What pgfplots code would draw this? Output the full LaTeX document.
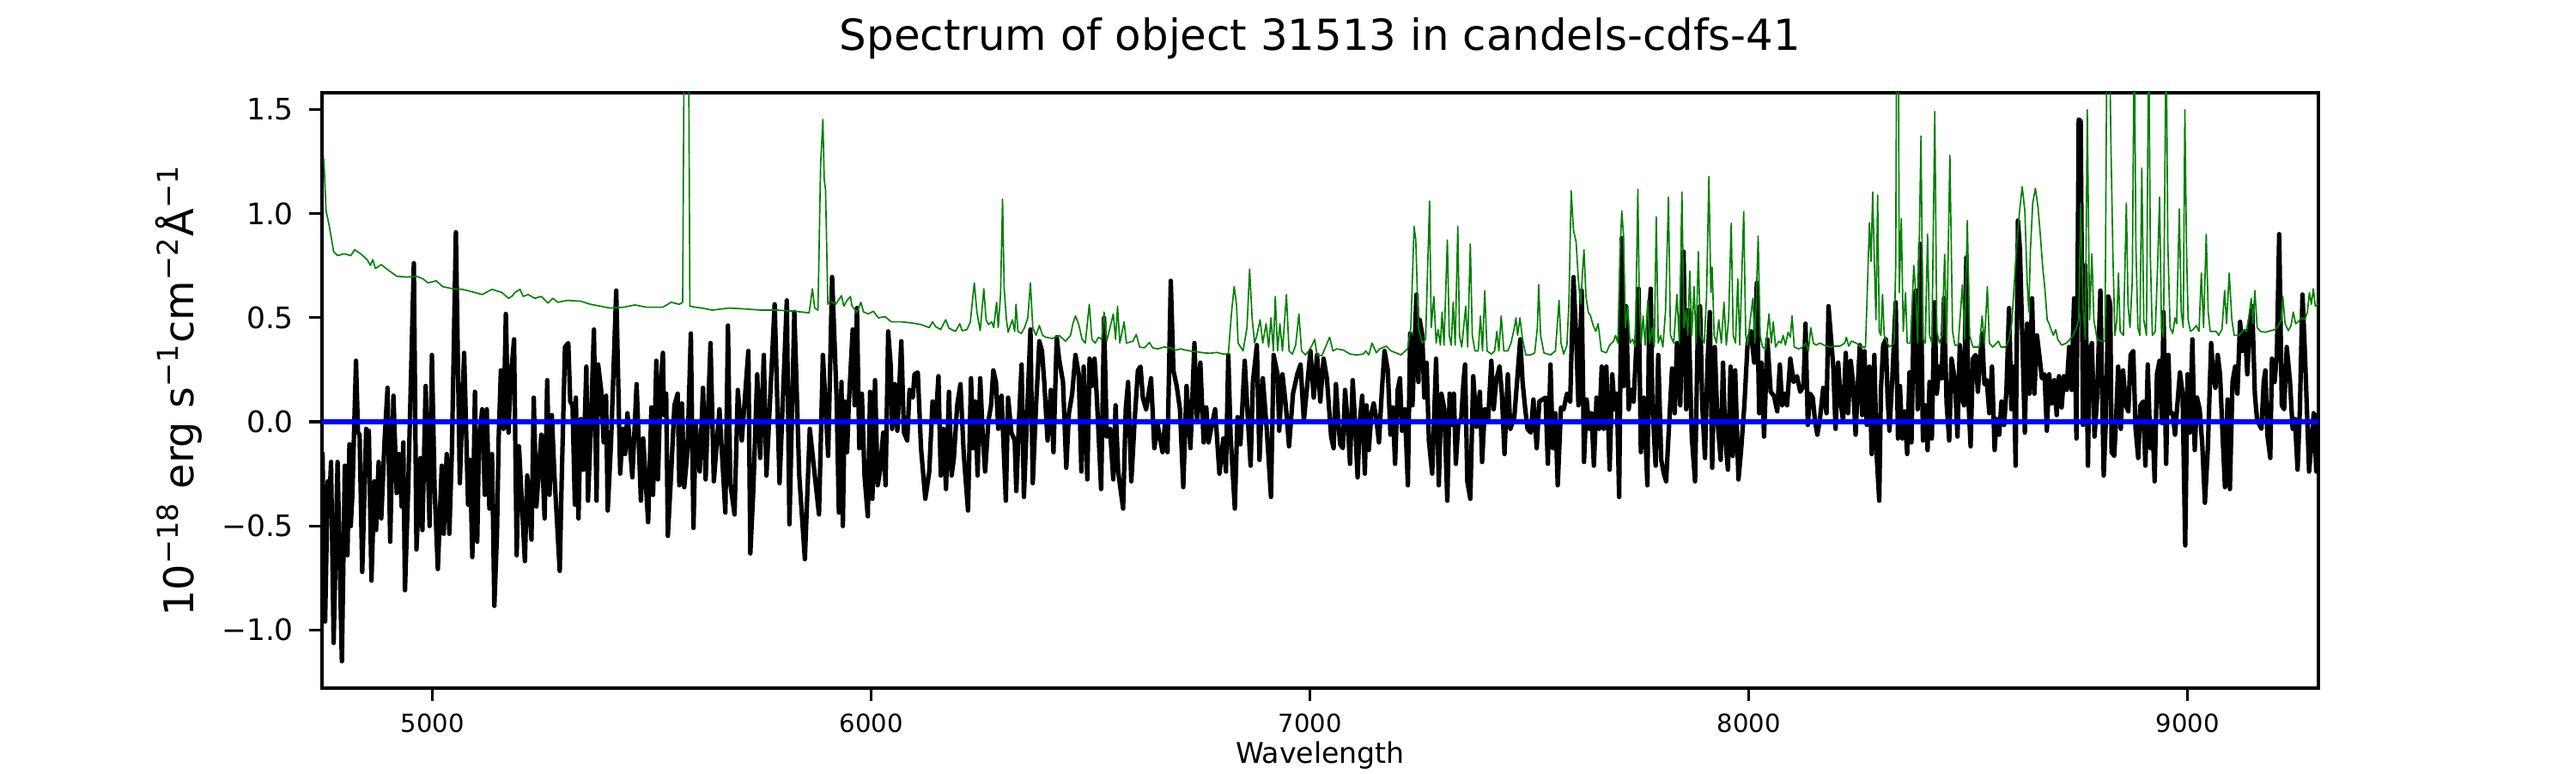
\documentclass[border=0pt]{standalone}
\usepackage{fontspec}
\setmainfont{DejaVu Sans}
\usepackage{pgfplots}
\pgfplotsset{compat=1.18}
\definecolor{mplgreen}{rgb}{0,0.5,0}
\begin{document}
\begin{tikzpicture}
\useasboundingbox (0,0) rectangle (720bp,216bp);
\begin{axis}[
  at={(90bp,23.76bp)}, anchor=south west,
  width=558bp, height=166.32bp, scale only axis,
  xmin=4748, xmax=9298, ymin=-1.279, ymax=1.58,
  scaled x ticks=false, scaled y ticks=false,
  xtick={5000,6000,7000,8000,9000},
  xticklabels={5000,6000,7000,8000,9000},
  ytick={-1,-0.5,0,0.5,1,1.5},
  yticklabels={−1.0,−0.5,0.0,0.5,1.0,1.5},
  tick align=outside, tick pos=left,
  major tick length=3.5bp,
  every tick/.style={line width=0.8bp, black},
  axis line style={line width=0.8bp},
  xticklabel style={font=\fontsize{7}{8}\selectfont, anchor=base, inner sep=0pt, yshift=-8.74bp},
  yticklabel style={font=\fontsize{8.3}{10}\selectfont, anchor=east, inner sep=0pt, xshift=-4.25bp},
  title={Spectrum of object 31513 in candels-cdfs-41},
  title style={at={(axis description cs:0.5,1.0357)}, anchor=base, inner sep=0pt, font=\fontsize{12}{14}\selectfont},
  xlabel={Wavelength},
  xlabel style={at={(axis description cs:0.5,-0.1257)}, anchor=base, inner sep=0pt, font=\fontsize{8}{10}\selectfont},
  ylabel={10\textsuperscript{−18} erg s\textsuperscript{−1}cm\textsuperscript{−2}Å\textsuperscript{−1}},
  ylabel style={at={(axis description cs:-0.0641,0.5)}, anchor=base, inner sep=0pt, font=\fontsize{11.5}{13}\selectfont},
]
\addplot[black, line width=1.25bp, line join=round] table {
4749.1 -0.146
4755.1 -0.959
4761.1 -0.286
4764.8 -0.389
4768.6 -0.193
4774.5 -1.062
4783.5 -0.193
4793.3 -1.150
4800.0 -0.211
4806.0 -0.641
4810.5 -0.108
4813.5 -0.501
4817.2 -0.351
4825.5 0.293
4830.0 -0.052
4833.7 -0.062
4839.7 -0.721
4848.7 -0.034
4852.4 -0.258
4854.7 -0.043
4860.7 -0.763
4867.4 -0.286
4871.2 -0.520
4877.1 -0.193
4883.1 -0.464
4890.6 -0.090
4897.4 0.163
4903.4 -0.576
4910.8 0.125
4918.3 -0.342
4924.3 -0.155
4929.6 -0.407
4933.3 -0.099
4937.1 -0.809
4944.5 -0.314
4957.3 0.761
4963.3 -0.613
4972.3 -0.174
4976.8 -0.520
4984.2 0.172
4993.2 -0.501
4998.5 0.321
5004.5 -0.314
5012.0 -0.707
5020.9 -0.211
5025.4 -0.538
5032.2 -0.155
5038.2 -0.538
5044.1 -0.136
5053.1 0.910
5062.1 -0.295
5071.9 0.331
5080.9 -0.398
5085.4 -0.183
5090.6 -0.650
5096.6 0.144
5101.8 -0.576
5105.6 -0.108
5113.1 0.060
5119.0 -0.351
5123.5 0.060
5129.5 -0.417
5135.5 -0.155
5140.8 -0.884
5146.8 -0.538
5150.5 -0.090
5155.7 0.247
5161.7 -0.034
5167.0 0.518
5173.0 -0.052
5177.5 0.191
5185.7 0.396
5191.7 -0.641
5196.9 -0.118
5210.4 -0.669
5215.7 -0.258
5225.4 -0.566
5230.6 0.116
5236.6 -0.407
5247.9 -0.062
5255.3 -0.464
5261.3 0.200
5266.6 -0.351
5271.8 0.032
5277.8 -0.258
5289.8 -0.716
5294.3 -0.277
5301.8 0.359
5309.3 0.378
5313.8 0.097
5319.0 0.079
5324.3 -0.398
5326.5 0.116
5332.5 -0.464
5337.7 0.013
5343.7 -0.230
5350.5 0.265
5354.2 -0.379
5360.2 -0.052
5367.7 0.443
5373.7 -0.379
5377.4 0.275
5384.2 0.153
5390.1 -0.099
5395.4 0.125
5399.1 -0.426
5406.6 -0.108
5418.6 0.630
5427.6 -0.249
5433.6 -0.034
5438.8 -0.155
5444.1 0.041
5455.3 -0.267
5465.0 0.181
5474.8 -0.379
5480.0 -0.080
5491.3 -0.482
5498.7 0.069
5502.5 -0.351
5510.0 0.293
5513.7 -0.277
5519.7 0.181
5525.0 0.331
5527.2 0.032
5532.4 0.135
5536.2 -0.548
5543.7 -0.249
5551.2 0.079
5558.6 0.135
5562.4 -0.305
5568.4 0.088
5573.6 -0.314
5581.1 -0.136
5588.6 0.424
5594.6 -0.510
5599.8 -0.015
5608.8 -0.239
5616.3 0.163
5622.3 -0.277
5633.5 0.378
5641.0 -0.286
5653.8 0.060
5667.3 -0.436
5673.2 0.462
5678.5 -0.295
5688.2 -0.445
5695.7 0.153
5704.7 -0.090
5719.7 0.340
5724.2 -0.632
5730.9 -0.333
5739.9 0.228
5746.6 -0.174
5754.9 0.321
5760.9 -0.258
5779.6 0.564
5790.8 -0.295
5807.3 0.583
5813.3 -0.492
5824.5 0.527
5835.7 -0.258
5848.5 -0.660
5859.7 -0.034
5880.7 -0.445
5889.6 0.321
5901.6 -0.164
5910.6 0.695
5920.8 0.116
5926.0 -0.436
5932.0 0.191
5935.0 -0.501
5939.5 0.097
5944.7 -0.146
5948.5 0.079
5957.5 0.443
5962.0 0.079
5967.2 0.546
5972.5 -0.127
5978.4 0.135
5984.4 -0.258
5991.9 -0.454
5997.2 0.144
6002.4 -0.370
6008.4 0.200
6014.4 -0.305
6019.6 -0.239
6027.1 -0.052
6032.4 -0.305
6038.4 0.434
6044.3 0.265
6047.3 -0.034
6053.3 0.181
6059.3 -0.043
6068.3 0.387
6074.3 -0.052
6081.8 -0.090
6087.0 0.153
6094.5 0.116
6098.3 0.228
6105.8 0.237
6113.2 -0.127
6123.0 -0.370
6132.0 -0.239
6139.5 0.097
6146.9 0.004
6152.9 0.219
6158.2 -0.258
6164.2 -0.034
6170.2 -0.323
6176.9 0.144
6182.9 -0.258
6188.1 -0.174
6195.6 0.079
6203.1 0.181
6210.6 -0.155
6220.3 -0.426
6227.1 0.209
6233.1 -0.127
6236.8 0.097
6242.1 -0.258
6248.1 0.209
6254.0 -0.071
6259.3 -0.239
6266.8 0.004
6272.8 0.079
6278.0 0.247
6284.0 0.191
6289.2 -0.034
6296.7 0.125
6306.5 -0.379
6311.7 0.116
6319.2 -0.052
6326.7 -0.090
6330.4 -0.333
6336.4 0.004
6342.4 0.275
6347.7 -0.361
6354.4 0.004
6362.6 0.443
6367.9 -0.295
6375.4 0.079
6382.9 0.387
6388.9 0.340
6394.1 0.191
6401.6 -0.090
6409.1 0.153
6415.1 -0.146
6422.5 0.406
6427.8 0.303
6436.8 0.191
6444.3 -0.221
6450.3 0.041
6457.7 0.135
6465.2 0.321
6472.7 0.228
6478.7 -0.239
6484.0 0.265
6492.2 -0.277
6497.4 0.303
6502.7 0.172
6508.7 0.303
6513.9 0.116
6523.7 -0.323
6530.4 0.499
6536.4 -0.071
6543.9 -0.034
6551.4 -0.277
6556.6 0.079
6562.6 -0.239
6573.8 -0.417
6579.8 0.060
6585.1 0.191
6592.5 -0.286
6600.0 0.004
6607.5 0.247
6613.5 0.265
6618.8 0.116
6626.2 0.060
6637.5 0.209
6645.0 -0.127
6652.5 -0.015
6663.7 -0.146
6668.9 -0.015
6674.9 -0.146
6682.4 0.677
6688.4 0.247
6695.9 0.172
6703.4 0.060
6710.9 -0.314
6718.4 0.172
6727.3 -0.127
6736.3 0.378
6742.3 0.004
6749.8 0.284
6757.3 -0.099
6763.3 0.069
6768.5 -0.099
6776.0 -0.015
6783.5 0.060
6793.3 -0.249
6802.2 -0.080
6808.2 -0.239
6813.5 0.321
6818.8 -0.071
6828.4 -0.417
6834.4 0.022
6841.2 -0.108
6850.9 0.293
6858.4 0.004
6864.4 -0.211
6869.6 0.191
6878.6 0.368
6884.6 -0.183
6892.1 0.209
6901.1 -0.034
6910.8 -0.361
6916.8 0.321
6925.8 0.228
6929.6 -0.043
6937.0 0.228
6944.5 0.079
6952.0 -0.118
6961.0 0.135
6970.7 0.228
6978.2 0.275
6985.7 0.004
6993.2 0.172
7000.7 0.340
7008.2 0.116
7015.7 0.321
7023.2 0.097
7030.7 0.303
7038.2 0.209
7047.9 -0.071
7053.5 -0.127
7058.8 0.181
7064.8 -0.015
7068.5 -0.108
7074.5 -0.127
7079.7 0.153
7085.0 0.013
7091.0 -0.202
7097.0 0.200
7102.2 0.004
7108.2 -0.267
7113.4 0.004
7118.7 0.125
7124.7 -0.249
7128.4 0.079
7133.7 -0.136
7139.7 0.041
7144.9 0.088
7150.9 0.013
7156.9 -0.099
7163.6 0.153
7169.6 0.340
7177.1 0.247
7183.1 -0.062
7188.3 0.069
7193.6 -0.202
7199.6 0.153
7204.8 0.209
7209.3 -0.043
7216.0 0.060
7222.8 -0.305
7228.0 0.424
7233.3 0.079
7242.3 0.611
7246.8 0.191
7249.7 0.490
7255.7 0.415
7260.2 0.116
7265.5 0.284
7270.7 -0.090
7278.2 -0.249
7287.2 0.303
7293.2 -0.305
7299.2 0.135
7305.9 0.060
7312.7 -0.379
7317.9 0.135
7323.1 -0.015
7327.6 0.135
7332.1 -0.202
7338.1 0.004
7344.1 0.004
7349.4 0.191
7353.1 0.275
7358.3 -0.286
7365.1 -0.370
7371.8 0.219
7379.3 -0.024
7386.8 0.144
7392.0 -0.193
7398.0 0.060
7405.5 0.004
7413.0 0.293
7418.3 0.060
7424.2 0.200
7431.7 0.265
7437.0 0.135
7443.0 -0.155
7450.5 0.228
7456.4 -0.034
7465.4 0.022
7472.9 0.228
7478.9 0.396
7484.2 0.191
7489.4 0.079
7495.4 -0.034
7502.9 -0.052
7508.9 0.107
7516.4 -0.127
7522.4 0.097
7529.1 0.107
7536.6 0.116
7541.8 -0.202
7547.8 0.275
7553.1 -0.127
7559.0 0.041
7564.3 -0.305
7571.8 0.069
7577.8 0.060
7585.3 0.135
7592.7 0.097
7600.2 0.695
7606.2 0.415
7611.5 0.079
7619.0 0.630
7624.2 -0.193
7630.2 0.107
7636.2 -0.034
7641.4 0.041
7646.7 -0.211
7652.7 0.116
7658.7 -0.034
7664.6 0.265
7669.1 -0.034
7675.1 0.265
7682.6 -0.230
7688.6 0.228
7693.9 0.060
7699.1 0.135
7704.3 -0.361
7710.3 0.882
7714.8 0.172
7720.1 0.555
7726.0 0.060
7731.3 0.153
7737.3 0.097
7742.5 0.321
7748.5 0.639
7753.8 -0.146
7760.5 0.116
7768.7 -0.305
7772.5 0.490
7776.2 0.639
7780.0 0.079
7787.5 -0.211
7793.4 0.321
7800.2 -0.183
7806.2 -0.249
7811.4 -0.286
7817.4 -0.043
7824.9 0.256
7830.9 0.041
7836.1 0.378
7843.6 0.079
7851.1 0.817
7857.1 0.060
7862.3 0.536
7869.8 -0.071
7877.3 -0.286
7883.3 0.406
7888.6 0.555
7893.8 0.079
7899.8 -0.174
7905.8 0.284
7911.0 0.527
7916.3 -0.221
7922.3 0.359
7928.2 0.013
7935.7 -0.183
7941.0 0.284
7946.2 -0.080
7952.2 -0.230
7958.2 0.265
7963.4 -0.164
7968.7 0.247
7976.2 -0.277
7982.2 -0.136
7989.7 0.079
7997.1 0.378
8004.6 0.434
8012.1 0.284
8018.1 0.667
8023.4 0.041
8028.6 0.284
8034.6 -0.071
8042.1 0.396
8049.6 0.144
8057.1 0.125
8064.6 0.050
8070.5 0.275
8075.8 0.079
8081.0 0.135
8087.0 0.079
8094.5 0.303
8102.0 0.191
8109.5 0.219
8117.0 0.144
8124.5 0.172
8129.0 0.471
8134.2 -0.015
8139.5 0.135
8145.5 0.116
8150.7 0.004
8156.0 -0.062
8161.9 0.013
8169.4 0.163
8176.9 0.041
8181.4 0.555
8192.3 0.265
8197.5 -0.034
8203.5 0.284
8209.5 0.088
8214.7 0.004
8220.7 0.331
8226.0 0.041
8232.0 0.293
8237.2 0.191
8243.2 -0.062
8248.4 0.181
8252.9 0.368
8258.2 0.032
8263.4 0.340
8268.7 -0.015
8274.7 0.265
8279.9 -0.155
8285.9 0.321
8291.1 -0.155
8297.1 -0.379
8300.9 0.153
8306.1 0.368
8312.1 0.396
8315.9 0.125
8320.3 -0.043
8327.1 0.219
8334.6 0.574
8339.8 -0.080
8344.3 0.172
8349.5 -0.080
8354.8 0.050
8360.8 -0.155
8366.0 0.237
8370.5 -0.099
8375.8 0.536
8380.3 0.630
8384.7 0.060
8390.7 0.854
8396.7 -0.090
8402.0 0.079
8407.2 -0.136
8411.7 0.191
8417.0 -0.080
8422.9 0.574
8428.2 0.135
8434.2 0.265
8439.4 0.209
8444.7 0.593
8450.6 0.088
8456.6 -0.090
8461.9 0.303
8469.4 0.200
8475.4 -0.071
8480.6 0.368
8485.9 0.116
8490.3 0.079
8495.6 0.789
8500.1 0.116
8505.3 -0.118
8510.6 0.303
8516.5 0.321
8521.8 0.144
8527.0 0.303
8531.5 0.424
8536.8 0.181
8542.0 0.200
8548.0 0.041
8554.0 0.265
8560.0 -0.136
8564.5 0.013
8570.5 -0.062
8575.7 0.097
8581.7 -0.015
8587.0 0.153
8592.9 0.546
8598.2 0.060
8603.4 0.265
8607.9 -0.211
8613.2 0.966
8617.7 0.826
8622.9 0.424
8628.9 -0.052
8634.1 0.471
8639.4 0.135
8645.4 0.593
8650.6 0.135
8656.6 0.415
8661.8 0.321
8667.8 0.209
8673.8 0.228
8679.1 -0.043
8684.3 0.228
8690.3 0.088
8696.3 0.200
8701.5 0.032
8706.8 0.219
8712.8 0.069
8718.0 0.219
8724.0 0.153
8730.0 0.359
8735.2 0.153
8741.2 0.593
8746.5 -0.080
8751.7 1.452
8756.2 1.443
8761.4 -0.015
8766.7 0.751
8772.7 -0.211
8776.4 0.340
8781.7 0.378
8787.7 -0.071
8793.6 0.116
8801.1 0.630
8808.6 -0.258
8813.9 0.022
8819.1 0.602
8823.6 0.564
8826.6 -0.146
8832.6 -0.164
8836.3 -0.015
8841.6 0.265
8847.6 -0.034
8852.8 0.247
8858.8 0.079
8864.8 0.050
8870.0 0.321
8876.0 0.340
8881.3 -0.034
8887.3 -0.174
8892.5 0.079
8898.5 0.097
8903.7 -0.211
8909.0 0.275
8915.0 -0.127
8920.2 -0.015
8924.7 -0.286
8930.0 0.228
8935.9 0.293
8941.2 -0.006
8944.9 0.527
8950.9 -0.202
8956.2 0.321
8959.9 0.041
8965.9 0.041
8971.2 -0.062
8976.4 0.079
8982.4 0.237
8988.4 0.135
8994.4 -0.594
8999.6 0.228
9004.9 -0.052
9010.8 0.396
9016.1 -0.136
9021.3 0.116
9027.3 0.060
9033.3 -0.108
9039.3 -0.389
9046.0 -0.127
9053.5 0.378
9058.8 0.209
9063.3 0.163
9068.5 0.321
9073.8 0.228
9079.7 -0.071
9085.0 -0.314
9091.0 0.107
9096.2 -0.323
9102.2 0.191
9108.2 0.265
9113.4 0.135
9119.4 0.480
9124.7 0.340
9130.7 0.434
9135.9 0.228
9141.9 0.480
9147.1 0.555
9153.1 0.135
9158.4 0.004
9163.6 -0.015
9168.1 -0.034
9173.3 0.191
9177.1 0.247
9181.6 -0.062
9188.3 -0.174
9192.1 0.303
9198.1 0.191
9203.3 0.321
9208.6 0.901
9214.5 0.079
9219.8 0.060
9225.8 0.359
9233.3 0.191
9239.2 -0.034
9244.5 0.013
9250.5 -0.230
9255.7 0.060
9261.7 0.611
9267.0 0.340
9272.9 -0.006
9276.7 -0.239
9281.9 -0.108
9287.2 0.041
9293.2 -0.239
9296.9 0.041
};
\addplot[mplgreen, line width=0.4bp, line join=round] table {
4752.1 1.265
4757.3 1.013
4764.8 0.938
4774.5 0.817
4783.5 0.798
4798.5 0.807
4813.5 0.798
4822.5 0.826
4835.9 0.807
4850.9 0.779
4858.4 0.751
4863.7 0.779
4869.7 0.736
4883.1 0.755
4895.9 0.733
4918.3 0.699
4940.8 0.695
4963.3 0.699
4978.2 0.686
4989.5 0.667
5008.2 0.677
5023.2 0.649
5045.6 0.639
5068.1 0.636
5090.6 0.624
5113.1 0.611
5135.5 0.636
5158.0 0.621
5173.0 0.593
5180.5 0.602
5187.9 0.621
5199.2 0.636
5206.7 0.602
5217.9 0.611
5232.9 0.593
5247.9 0.602
5262.8 0.570
5274.1 0.593
5285.3 0.574
5307.8 0.583
5337.7 0.579
5360.2 0.564
5382.7 0.555
5405.1 0.546
5435.1 0.550
5461.3 0.561
5487.5 0.550
5524.9 0.550
5543.7 0.574
5562.4 0.564
5569.9 0.574
5573.6 1.9
5578.9 1.9
5583.4 1.9
5586.4 0.555
5599.8 0.550
5614.8 0.546
5637.3 0.536
5674.7 0.546
5712.2 0.542
5749.6 0.536
5787.1 0.536
5824.5 0.531
5858.2 0.523
5865.7 0.639
5870.9 0.546
5878.4 0.536
5884.4 1.237
5889.6 1.452
5892.6 1.163
5895.6 1.116
5900.9 0.564
5903.6 0.574
5911.1 0.574
5918.5 0.564
5926.0 0.587
5932.0 0.606
5937.3 0.555
5944.7 0.583
5952.2 0.602
5956.0 0.555
5967.2 0.527
5976.2 0.574
5982.2 0.527
5993.4 0.518
6004.7 0.531
6015.9 0.499
6030.9 0.505
6045.8 0.480
6068.3 0.480
6090.8 0.475
6113.2 0.467
6132.0 0.452
6139.5 0.480
6146.9 0.456
6158.2 0.443
6169.4 0.490
6176.9 0.449
6191.9 0.434
6201.6 0.471
6206.9 0.437
6218.1 0.443
6225.6 0.480
6234.6 0.667
6240.6 0.527
6248.1 0.437
6256.3 0.639
6261.5 0.490
6266.8 0.467
6274.3 0.480
6278.8 0.452
6285.5 0.574
6289.2 0.452
6294.5 0.611
6299.0 1.069
6302.7 0.639
6307.9 0.490
6311.7 0.430
6321.4 0.490
6326.7 0.434
6329.7 0.564
6334.2 0.434
6341.7 0.424
6349.2 0.452
6356.6 0.499
6362.6 0.667
6367.9 0.452
6375.4 0.415
6382.9 0.462
6390.3 0.415
6397.8 0.406
6412.8 0.400
6427.8 0.415
6442.8 0.387
6454.0 0.415
6459.3 0.471
6465.2 0.508
6472.7 0.467
6480.2 0.396
6487.7 0.378
6496.7 0.564
6502.7 0.396
6510.2 0.378
6517.7 0.406
6525.1 0.396
6530.4 0.527
6536.4 0.387
6543.9 0.452
6551.4 0.518
6556.6 0.396
6561.1 0.555
6566.3 0.378
6576.1 0.480
6581.3 0.378
6596.3 0.387
6603.8 0.419
6611.3 0.359
6622.5 0.355
6633.7 0.381
6641.2 0.355
6652.5 0.350
6667.4 0.359
6682.4 0.355
6693.7 0.344
6704.9 0.350
6716.1 0.344
6727.3 0.340
6742.3 0.336
6757.3 0.331
6772.3 0.329
6787.3 0.333
6802.2 0.325
6813.5 0.325
6821.0 0.527
6826.9 0.649
6832.2 0.564
6835.9 0.378
6847.2 0.340
6856.1 0.452
6862.1 0.733
6868.1 0.490
6873.4 0.378
6878.6 0.415
6886.1 0.490
6892.1 0.378
6899.6 0.471
6905.6 0.359
6910.8 0.499
6916.1 0.340
6920.6 0.602
6925.8 0.340
6931.1 0.471
6937.0 0.340
6946.0 0.611
6952.0 0.340
6959.5 0.325
6967.0 0.368
6974.5 0.518
6980.5 0.340
6989.5 0.321
6997.0 0.340
7004.4 0.368
7010.4 0.396
7015.7 0.321
7026.9 0.318
7044.5 0.406
7052.0 0.340
7061.0 0.350
7076.0 0.344
7091.0 0.325
7106.0 0.321
7120.9 0.325
7126.9 0.340
7133.7 0.321
7141.2 0.378
7150.9 0.331
7158.4 0.350
7173.4 0.363
7184.6 0.340
7195.8 0.331
7207.1 0.321
7222.0 0.350
7229.5 0.452
7237.0 0.938
7240.8 0.873
7246.8 0.452
7255.7 0.378
7263.2 0.396
7272.2 1.060
7276.0 0.452
7282.0 0.602
7287.2 0.378
7291.7 0.443
7296.9 0.368
7300.7 0.527
7305.2 0.368
7312.7 0.873
7317.1 0.415
7321.6 0.368
7326.1 0.574
7330.6 0.368
7336.6 0.938
7340.4 0.415
7345.6 0.359
7354.6 0.555
7359.1 0.359
7365.1 0.854
7369.6 0.415
7375.6 0.340
7383.1 0.340
7388.3 0.508
7392.8 0.340
7398.0 0.630
7403.3 0.340
7413.0 0.325
7420.5 0.340
7425.7 0.434
7430.2 0.340
7435.5 0.508
7441.5 0.340
7450.5 0.340
7457.9 0.378
7465.4 0.452
7469.2 0.499
7472.9 0.415
7478.2 0.499
7484.2 0.396
7491.6 0.321
7502.9 0.321
7511.9 0.331
7517.9 0.452
7520.9 0.658
7525.3 0.415
7532.8 0.331
7547.8 0.321
7559.0 0.340
7567.3 0.583
7571.8 0.378
7577.8 0.325
7585.3 0.368
7589.7 0.564
7595.0 1.110
7600.2 0.920
7606.2 0.864
7611.5 0.677
7616.7 0.564
7621.2 0.733
7624.2 0.826
7628.7 0.602
7633.9 0.527
7639.2 0.508
7645.2 0.462
7651.2 0.434
7656.4 0.471
7663.9 0.340
7675.1 0.331
7682.6 0.368
7691.6 0.387
7696.1 0.415
7701.3 0.378
7706.6 0.826
7710.3 1.013
7714.1 0.901
7718.6 0.452
7723.8 0.555
7729.0 0.378
7735.0 0.396
7741.0 0.359
7747.0 1.116
7750.0 0.602
7754.5 0.378
7759.0 0.508
7763.5 0.368
7769.5 0.583
7774.0 0.378
7780.0 0.452
7784.4 0.359
7788.9 0.985
7793.4 0.378
7798.7 0.415
7803.9 0.359
7809.9 0.527
7816.7 1.079
7821.2 0.415
7828.7 0.378
7836.1 0.611
7841.4 0.378
7847.4 1.103
7851.9 0.452
7856.4 0.536
7860.8 0.415
7865.3 0.723
7869.8 0.415
7875.1 0.649
7879.6 0.378
7884.8 0.817
7889.3 0.415
7898.3 0.378
7903.5 0.602
7908.8 1.178
7913.3 0.621
7916.3 0.742
7920.8 0.415
7926.0 0.378
7931.3 0.490
7937.2 0.378
7943.2 0.574
7948.5 0.368
7953.7 0.490
7959.7 0.953
7964.2 0.415
7969.5 0.378
7974.7 0.686
7979.2 0.368
7988.2 1.009
7992.7 0.415
7997.1 0.368
8003.1 0.490
8009.1 0.593
8013.6 0.378
8021.1 0.892
8025.6 0.415
8030.9 0.359
8038.3 0.350
8045.8 0.518
8051.1 0.378
8055.6 0.480
8060.8 0.359
8068.3 0.387
8073.6 0.378
8078.0 0.415
8083.3 0.368
8089.3 0.430
8094.5 0.406
8098.3 0.508
8103.5 0.359
8113.2 0.350
8120.7 0.355
8129.7 0.378
8135.7 0.340
8141.0 0.452
8147.0 0.378
8152.9 0.368
8161.9 0.378
8170.9 0.368
8184.8 0.359
8196.0 0.363
8207.3 0.363
8218.5 0.378
8222.2 0.406
8227.5 0.363
8233.5 0.387
8244.7 0.378
8255.9 0.359
8265.7 0.359
8270.9 0.695
8274.7 0.957
8278.4 0.770
8282.1 1.103
8285.9 0.770
8289.6 0.490
8293.4 1.088
8297.1 0.434
8300.9 0.415
8304.6 0.611
8308.4 0.415
8319.6 0.359
8330.8 0.378
8334.6 0.751
8336.8 1.9
8340.6 1.9
8342.8 0.621
8347.3 0.976
8351.8 0.434
8357.0 0.621
8360.8 0.378
8368.3 0.378
8375.8 0.751
8380.3 0.621
8384.7 0.378
8392.2 1.372
8396.7 0.396
8402.0 0.378
8407.2 0.901
8411.7 0.415
8417.0 0.378
8423.7 1.490
8428.2 0.434
8434.2 0.378
8440.2 0.415
8446.2 0.804
8450.6 0.378
8458.1 1.279
8464.1 0.434
8469.4 0.368
8476.9 0.368
8486.6 0.658
8491.8 0.396
8497.8 0.966
8503.1 0.415
8510.6 0.359
8525.5 0.359
8531.5 0.508
8536.8 0.378
8543.5 0.649
8548.0 0.378
8555.5 0.359
8569.0 0.387
8574.2 0.359
8585.4 0.359
8592.9 0.396
8598.9 0.471
8604.2 0.639
8609.4 0.826
8616.9 1.013
8622.9 1.129
8628.9 1.013
8634.1 0.677
8637.9 0.527
8641.6 0.826
8646.9 1.050
8652.9 1.121
8658.8 1.032
8664.1 0.901
8669.3 0.751
8675.3 0.621
8679.8 0.490
8684.3 0.471
8688.8 0.443
8694.0 0.415
8699.3 0.443
8703.8 0.396
8712.8 0.368
8724.0 0.378
8731.5 0.396
8739.0 0.415
8746.5 0.452
8751.7 0.490
8756.2 1.050
8761.4 0.564
8766.7 0.396
8771.2 1.499
8776.4 0.490
8781.7 0.807
8786.2 0.490
8793.6 0.396
8802.6 0.387
8811.6 0.387
8816.1 1.9
8821.4 1.9
8825.1 1.331
8829.6 0.807
8834.1 0.415
8838.6 0.490
8842.3 0.714
8846.1 0.434
8853.6 0.415
8860.3 1.050
8864.0 0.564
8868.5 0.452
8873.8 0.677
8878.3 1.9
8882.0 0.845
8886.5 0.452
8891.0 0.415
8895.5 1.219
8900.0 0.490
8906.0 0.415
8911.2 1.9
8915.0 0.789
8919.5 0.415
8926.2 0.434
8931.4 0.742
8935.9 1.079
8940.4 0.452
8944.9 0.406
8950.9 1.9
8954.7 0.864
8959.9 0.452
8965.9 0.424
8971.2 0.499
8974.9 0.471
8980.9 1.022
8985.4 0.527
8989.9 0.452
8993.6 1.499
8997.4 0.826
9001.1 0.490
9006.3 0.434
9012.3 0.443
9019.8 0.462
9025.8 0.434
9031.1 0.714
9036.3 0.452
9042.3 0.901
9046.8 0.527
9051.3 0.434
9064.8 0.434
9070.7 0.415
9078.2 0.443
9084.2 0.630
9088.7 0.471
9094.7 0.714
9100.7 0.490
9106.0 0.415
9117.2 0.415
9128.4 0.443
9133.7 0.434
9139.7 0.508
9144.9 0.593
9148.6 0.471
9153.1 0.630
9158.4 0.452
9165.9 0.434
9177.1 0.430
9188.3 0.437
9199.6 0.443
9207.1 0.462
9213.0 0.490
9216.8 0.602
9222.0 0.471
9229.5 0.437
9235.5 0.462
9240.7 0.527
9246.0 0.471
9252.0 0.480
9259.5 0.499
9267.0 0.490
9272.9 0.527
9277.4 0.621
9281.9 0.564
9286.4 0.639
9290.9 0.555
9296.9 0.564
};
\addplot[blue, line width=1.6bp] coordinates {(4748,0) (9298,0)};
\end{axis}
\end{tikzpicture}
\end{document}
